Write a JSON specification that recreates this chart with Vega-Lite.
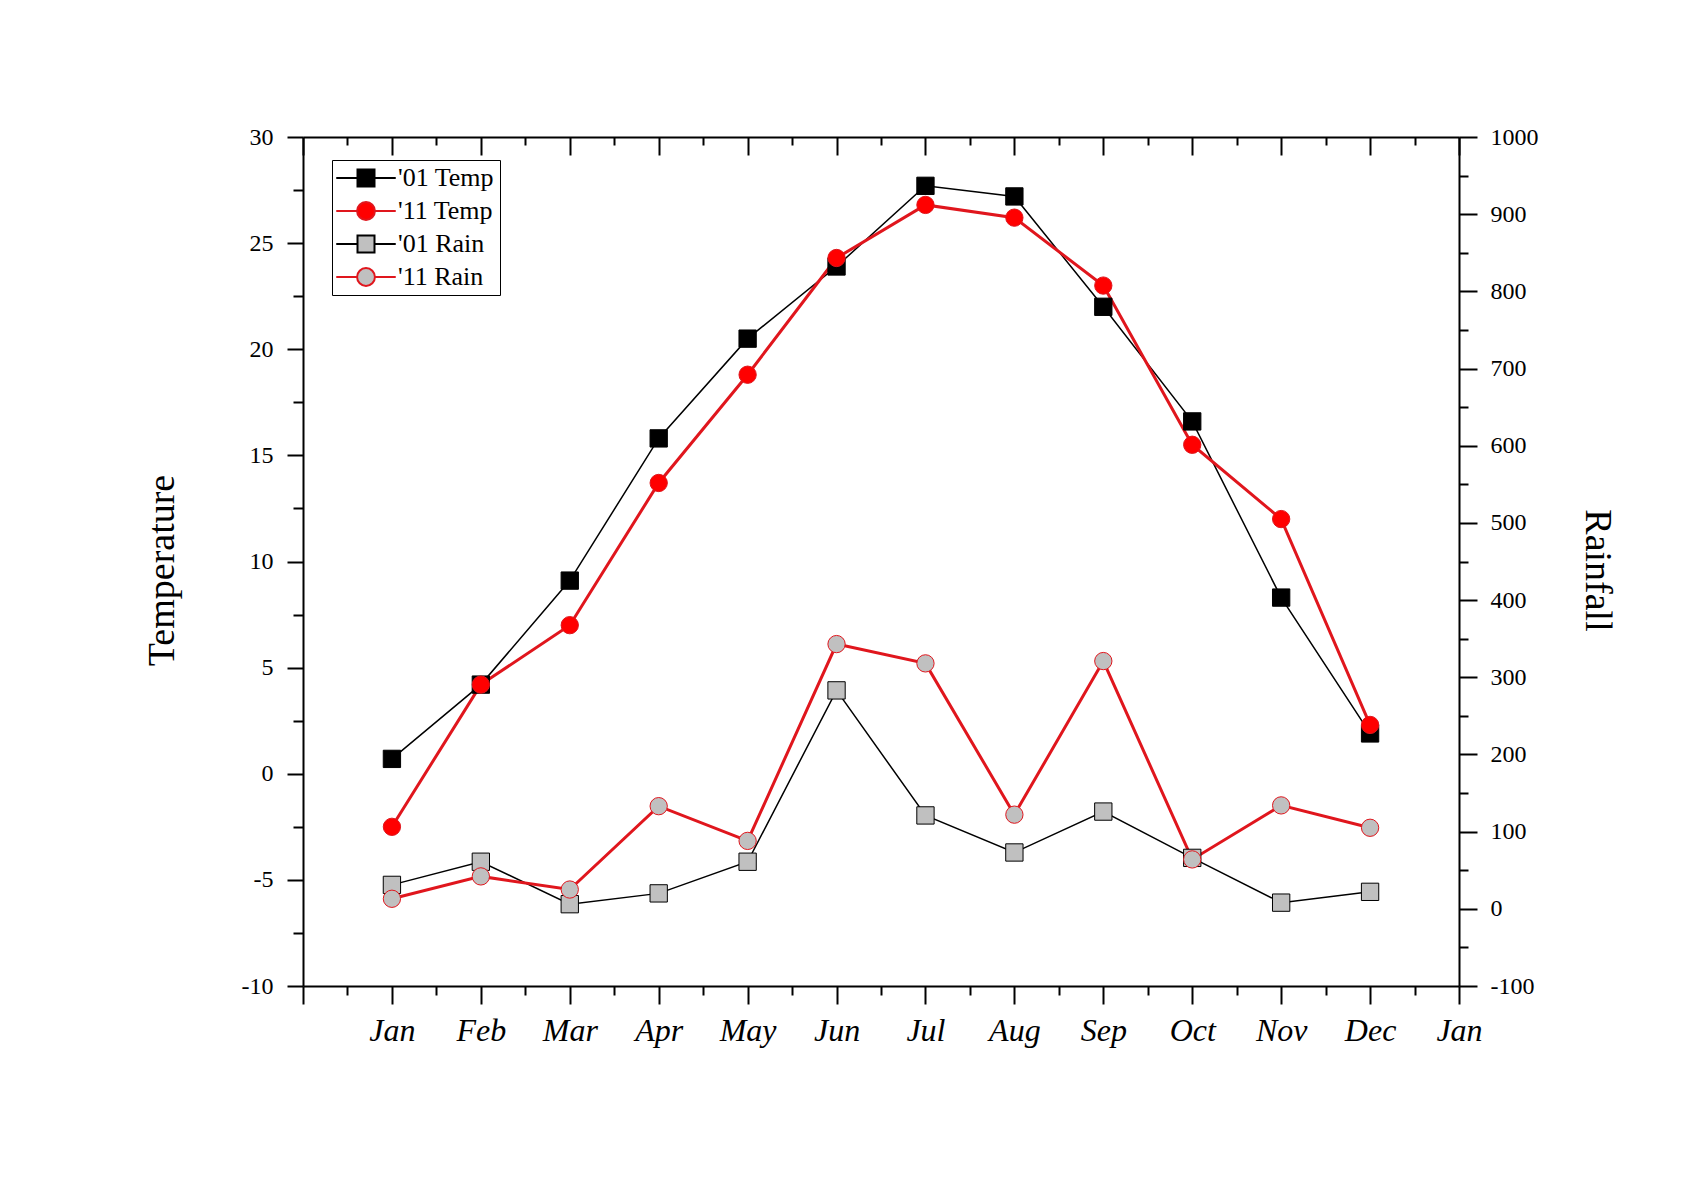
{
  "$schema": "https://vega.github.io/schema/vega-lite/v6.json",
  "width": 1156,
  "height": 849,
  "autosize": "none",
  "padding": {"left": 303, "top": 137, "right": 236, "bottom": 196},
  "background": "white",
  "config": {
    "view": {"stroke": null},
    "axis": {
      "domainColor": "black", "domainWidth": 2, "tickColor": "black", "tickWidth": 2,
      "labelColor": "black", "labelFont": "Liberation Serif", "titleFont": "Liberation Serif",
      "titleColor": "black", "titleFontWeight": "normal", "grid": false,
      "labelFlush": false, "labelOverlap": false
    }
  },
  "datasets": {
    "temp": [
      {"series": "'01 Temp", "month": 1, "value": 0.7},
      {"series": "'01 Temp", "month": 2, "value": 4.2},
      {"series": "'01 Temp", "month": 3, "value": 9.1},
      {"series": "'01 Temp", "month": 4, "value": 15.8},
      {"series": "'01 Temp", "month": 5, "value": 20.5},
      {"series": "'01 Temp", "month": 6, "value": 23.9},
      {"series": "'01 Temp", "month": 7, "value": 27.7},
      {"series": "'01 Temp", "month": 8, "value": 27.2},
      {"series": "'01 Temp", "month": 9, "value": 22.0},
      {"series": "'01 Temp", "month": 10, "value": 16.6},
      {"series": "'01 Temp", "month": 11, "value": 8.3},
      {"series": "'01 Temp", "month": 12, "value": 1.9},
      {"series": "'11 Temp", "month": 1, "value": -2.5},
      {"series": "'11 Temp", "month": 2, "value": 4.2},
      {"series": "'11 Temp", "month": 3, "value": 7.0},
      {"series": "'11 Temp", "month": 4, "value": 13.7},
      {"series": "'11 Temp", "month": 5, "value": 18.8},
      {"series": "'11 Temp", "month": 6, "value": 24.3},
      {"series": "'11 Temp", "month": 7, "value": 26.8},
      {"series": "'11 Temp", "month": 8, "value": 26.2},
      {"series": "'11 Temp", "month": 9, "value": 23.0},
      {"series": "'11 Temp", "month": 10, "value": 15.5},
      {"series": "'11 Temp", "month": 11, "value": 12.0},
      {"series": "'11 Temp", "month": 12, "value": 2.3}
    ],
    "rain": [
      {"series": "'01 Rain", "month": 1, "value": 31},
      {"series": "'01 Rain", "month": 2, "value": 61},
      {"series": "'01 Rain", "month": 3, "value": 6},
      {"series": "'01 Rain", "month": 4, "value": 20},
      {"series": "'01 Rain", "month": 5, "value": 61},
      {"series": "'01 Rain", "month": 6, "value": 283},
      {"series": "'01 Rain", "month": 7, "value": 121},
      {"series": "'01 Rain", "month": 8, "value": 73},
      {"series": "'01 Rain", "month": 9, "value": 126},
      {"series": "'01 Rain", "month": 10, "value": 66},
      {"series": "'01 Rain", "month": 11, "value": 8},
      {"series": "'01 Rain", "month": 12, "value": 22},
      {"series": "'11 Rain", "month": 1, "value": 13},
      {"series": "'11 Rain", "month": 2, "value": 42},
      {"series": "'11 Rain", "month": 3, "value": 25},
      {"series": "'11 Rain", "month": 4, "value": 133},
      {"series": "'11 Rain", "month": 5, "value": 88},
      {"series": "'11 Rain", "month": 6, "value": 343},
      {"series": "'11 Rain", "month": 7, "value": 318},
      {"series": "'11 Rain", "month": 8, "value": 122},
      {"series": "'11 Rain", "month": 9, "value": 321},
      {"series": "'11 Rain", "month": 10, "value": 64},
      {"series": "'11 Rain", "month": 11, "value": 134},
      {"series": "'11 Rain", "month": 12, "value": 105}
    ]
  },
  "layer": [
    {
      "data": {"name": "temp"},
      "encoding": {
        "x": {
          "field": "month", "type": "quantitative",
          "scale": {"domain": [0, 13], "nice": false, "zero": false},
          "axis": {
            "orient": "bottom", "title": null,
            "values": [0, 0.5, 1, 1.5, 2, 2.5, 3, 3.5, 4, 4.5, 5, 5.5, 6, 6.5, 7, 7.5, 8, 8.5, 9, 9.5, 10, 10.5, 11, 11.5, 12, 12.5, 13],
            "labelExpr": "datum.value >= 1 && datum.value % 1 === 0 ? ['Jan','Feb','Mar','Apr','May','Jun','Jul','Aug','Sep','Oct','Nov','Dec','Jan'][datum.value - 1] : ''",
            "tickSize": {"condition": {"test": "datum.value % 1 === 0", "value": 18}, "value": 9},
            "labelFont": "Liberation Serif",
            "labelFontSize": 32, "labelFontStyle": "italic", "labelPadding": 26, "labelBaseline": "middle"
          }
        },
        "y": {
          "field": "value", "type": "quantitative",
          "scale": {"domain": [-10, 30], "nice": false, "zero": false},
          "axis": {
            "orient": "left", "title": "Temperature",
            "values": [-10, -7.5, -5, -2.5, 0, 2.5, 5, 7.5, 10, 12.5, 15, 17.5, 20, 22.5, 25, 27.5, 30],
            "labelExpr": "datum.value % 5 === 0 ? toString(datum.value) : ''",
            "tickSize": {"condition": {"test": "datum.value % 5 === 0", "value": 16}, "value": 10},
            "labelFont": "Liberation Serif",
            "labelFontSize": 24, "labelPadding": 14,
            "titleFont": "Liberation Serif",
            "titleFontSize": 38, "titleX": -141, "titleY": 433, "titleAngle": -90,
            "titleAlign": "center", "titleBaseline": "middle"
          }
        }
      },
      "layer": [
        {
          "transform": [{"filter": {"field": "series", "equal": "'01 Temp"}}],
          "mark": {"type": "line", "strokeWidth": 1.5},
          "encoding": {
            "stroke": {
              "field": "series", "type": "nominal",
              "scale": {"domain": ["'01 Temp", "'11 Temp", "'01 Rain", "'11 Rain"], "range": ["black", "#e0161d", "black", "#e0161d"]},
              "legend": null
            }
          }
        },
        {
          "transform": [{"filter": {"field": "series", "equal": "'11 Temp"}}],
          "mark": {"type": "line", "strokeWidth": 3},
          "encoding": {
            "stroke": {
              "field": "series", "type": "nominal",
              "scale": {"domain": ["'01 Temp", "'11 Temp", "'01 Rain", "'11 Rain"], "range": ["black", "#e0161d", "black", "#e0161d"]},
              "legend": null
            }
          }
        },
        {
          "mark": {"type": "point", "filled": true, "size": 300, "strokeWidth": 1, "opacity": 1, "fillOpacity": 1, "strokeOpacity": 1},
          "encoding": {
            "fill": {
              "field": "series", "type": "nominal",
              "scale": {"domain": ["'01 Temp", "'11 Temp", "'01 Rain", "'11 Rain"], "range": ["black", "#ff0000", "#c0c0c0", "#c0c0c0"]},
              "legend": null
            },
            "stroke": {
              "field": "series", "type": "nominal",
              "scale": {"domain": ["'01 Temp", "'11 Temp", "'01 Rain", "'11 Rain"], "range": ["black", "#e0161d", "black", "#e0161d"]},
              "legend": null
            },
            "shape": {
              "field": "series", "type": "nominal",
              "scale": {"domain": ["'01 Temp", "'11 Temp", "'01 Rain", "'11 Rain"], "range": ["square", "circle", "square", "circle"]},
              "legend": null
            }
          }
        }
      ]
    },
    {
      "data": {"name": "rain"},
      "encoding": {
        "x": {
          "field": "month", "type": "quantitative",
          "scale": {"domain": [0, 13], "nice": false, "zero": false},
          "axis": {
            "orient": "top", "title": null, "labels": false,
            "values": [0, 0.5, 1, 1.5, 2, 2.5, 3, 3.5, 4, 4.5, 5, 5.5, 6, 6.5, 7, 7.5, 8, 8.5, 9, 9.5, 10, 10.5, 11, 11.5, 12, 12.5, 13],
            "tickSize": {"condition": {"test": "datum.value % 1 === 0", "value": -18}, "value": -8}
          }
        },
        "y": {
          "field": "value", "type": "quantitative",
          "scale": {"domain": [-100, 1000], "nice": false, "zero": false},
          "axis": {
            "orient": "right", "title": "Rainfall",
            "values": [-100, -50, 0, 50, 100, 150, 200, 250, 300, 350, 400, 450, 500, 550, 600, 650, 700, 750, 800, 850, 900, 950, 1000],
            "labelExpr": "datum.value % 100 === 0 ? toString(datum.value) : ''",
            "tickSize": {"condition": {"test": "datum.value % 100 === 0", "value": 18}, "value": 9},
            "labelFont": "Liberation Serif",
            "labelFontSize": 24, "labelPadding": 13,
            "titleFont": "Liberation Serif",
            "titleFontSize": 38, "titleX": 137, "titleY": 433, "titleAngle": 90,
            "titleAlign": "center", "titleBaseline": "middle"
          }
        }
      },
      "layer": [
        {
          "transform": [{"filter": {"field": "series", "equal": "'01 Rain"}}],
          "mark": {"type": "line", "strokeWidth": 1.5},
          "encoding": {
            "stroke": {
              "field": "series", "type": "nominal",
              "scale": {"domain": ["'01 Temp", "'11 Temp", "'01 Rain", "'11 Rain"], "range": ["black", "#e0161d", "black", "#e0161d"]},
              "legend": null
            }
          }
        },
        {
          "transform": [{"filter": {"field": "series", "equal": "'11 Rain"}}],
          "mark": {"type": "line", "strokeWidth": 3},
          "encoding": {
            "stroke": {
              "field": "series", "type": "nominal",
              "scale": {"domain": ["'01 Temp", "'11 Temp", "'01 Rain", "'11 Rain"], "range": ["black", "#e0161d", "black", "#e0161d"]},
              "legend": null
            }
          }
        },
        {
          "mark": {"type": "point", "filled": true, "size": 300, "strokeWidth": 1, "opacity": 1, "fillOpacity": 1, "strokeOpacity": 1},
          "encoding": {
            "fill": {
              "field": "series", "type": "nominal",
              "scale": {"domain": ["'01 Temp", "'11 Temp", "'01 Rain", "'11 Rain"], "range": ["black", "#ff0000", "#c0c0c0", "#c0c0c0"]},
              "legend": null
            },
            "stroke": {
              "field": "series", "type": "nominal",
              "scale": {"domain": ["'01 Temp", "'11 Temp", "'01 Rain", "'11 Rain"], "range": ["black", "#e0161d", "black", "#e0161d"]},
              "legend": null
            },
            "shape": {
              "field": "series", "type": "nominal",
              "scale": {"domain": ["'01 Temp", "'11 Temp", "'01 Rain", "'11 Rain"], "range": ["square", "circle", "square", "circle"]},
              "legend": null
            }
          }
        }
      ]
    },
    {
      "data": {"name": "temp"},
      "transform": [{"filter": "datum.month < 0"}],
      "mark": {"type": "point", "filled": true, "size": 289, "strokeWidth": 2, "opacity": 1},
      "encoding": {
        "fill": {
          "field": "series", "type": "nominal",
          "scale": {"domain": ["'01 Temp", "'11 Temp", "'01 Rain", "'11 Rain"], "range": ["black", "#ff0000", "#c0c0c0", "#c0c0c0"]},
          "legend": {
            "title": null, "orient": "none", "legendX": 29, "legendY": 23, "padding": 5,
            "strokeColor": "black", "fillColor": "white",
            "labelFont": "Liberation Serif", "labelFontSize": 26, "labelColor": "black",
            "symbolSize": 289, "symbolOffset": 16, "labelOffset": 19, "rowPadding": 7,
            "symbolStrokeWidth": 2, "symbolOpacity": 1
          }
        },
        "stroke": {
          "field": "series", "type": "nominal",
          "scale": {"domain": ["'01 Temp", "'11 Temp", "'01 Rain", "'11 Rain"], "range": ["black", "#e0161d", "black", "#e0161d"]},
          "legend": {
            "title": null, "orient": "none", "legendX": 29, "legendY": 23, "padding": 5,
            "strokeColor": "black", "fillColor": "white",
            "labelFont": "Liberation Serif", "labelFontSize": 26, "labelColor": "black",
            "symbolSize": 289, "symbolOffset": 16, "labelOffset": 19, "rowPadding": 7,
            "symbolStrokeWidth": 2, "symbolOpacity": 1
          }
        },
        "shape": {
          "field": "series", "type": "nominal",
          "scale": {"domain": ["'01 Temp", "'11 Temp", "'01 Rain", "'11 Rain"], "range": ["M-3.5,0H-1M1,0H3.5M-1,-1H1V1H-1Z", "M-3.5,0H-1.05M1.05,0H3.5M-1.05,0A1.05,1.05,0,1,1,1.05,0A1.05,1.05,0,1,1,-1.05,0Z", "M-3.5,0H-1M1,0H3.5M-1,-1H1V1H-1Z", "M-3.5,0H-1.05M1.05,0H3.5M-1.05,0A1.05,1.05,0,1,1,1.05,0A1.05,1.05,0,1,1,-1.05,0Z"]},
          "legend": {
            "title": null, "orient": "none", "legendX": 29, "legendY": 23, "padding": 5,
            "strokeColor": "black", "fillColor": "white",
            "labelFont": "Liberation Serif", "labelFontSize": 26, "labelColor": "black",
            "symbolSize": 289, "symbolOffset": 16, "labelOffset": 19, "rowPadding": 7,
            "symbolStrokeWidth": 2, "symbolOpacity": 1
          }
        }
      }
    }
  ],
  "resolve": {
    "scale": {"y": "independent", "fill": "independent", "stroke": "independent", "shape": "independent"},
    "axis": {"x": "independent"}
  }
}
